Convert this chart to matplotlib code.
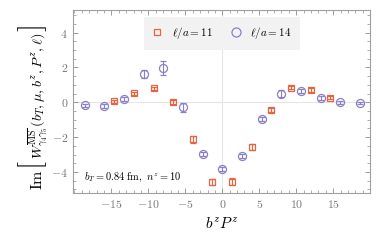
import matplotlib
matplotlib.use("Agg")
import matplotlib.pyplot as plt
from matplotlib.lines import Line2D
from matplotlib.transforms import IdentityTransform
from matplotlib.ticker import MultipleLocator, FixedLocator, FuncFormatter

# data
x11 = [-14.6, -11.95, -9.3, -6.65, -3.99, -1.33, 1.33, 3.99, 6.65, 9.3, 11.95, 14.6]
y11 = [0.05, 0.52, 0.80, 0.0, -2.13, -4.56, -4.56, -2.55, -0.44, 0.84, 0.71, 0.26]
e11 = [0.10, 0.10, 0.10, 0.12, 0.20, 0.17, 0.20, 0.18, 0.12, 0.10, 0.10, 0.08]

x14 = [-18.6, -15.96, -13.3, -10.64, -7.98, -5.32, -2.66, 0.0, 2.66, 5.32, 7.98, 10.64, 13.3, 15.96, 18.6]
y14 = [-0.17, -0.2, 0.19, 1.63, 1.99, -0.29, -2.97, -3.81, -3.07, -0.96, 0.48, 0.63, 0.26, 0.0, -0.04]
e14 = [0.08, 0.10, 0.12, 0.25, 0.40, 0.25, 0.10, 0.12, 0.12, 0.12, 0.20, 0.12, 0.10, 0.08, 0.08]

xticks = [-15, -10, -5, 0, 5, 10, 15]
yticks = [-4, -2, 0, 2, 4]

red = "#E8633F"
purple = "#8A80C8"
gray = "#8C8C8C"

plt.rcParams["mathtext.fontset"] = "cm"
plt.rcParams["font.family"] = "serif"

fig = plt.figure(figsize=(3.82, 2.43), dpi=100)
ax = fig.add_axes([0.191, 0.206, 0.778, 0.753])

ax.axhline(0, color="#E6E6E6", lw=0.8, zorder=0)
ax.axvline(0, color="#E6E6E6", lw=0.8, zorder=0)

ax.errorbar(x11, y11, yerr=e11, fmt="s", ms=4.8, mfc="none", mec=red, mew=0.9,
            ecolor=red, elinewidth=0.8, capsize=2.2, capthick=0.8)
ax.errorbar(x14, y14, yerr=e14, fmt="o", ms=5.8, mfc="none", mec=purple, mew=0.9,
            ecolor=purple, elinewidth=0.8, capsize=2.2, capthick=0.8)

ax.set_xlim(-20.2, 20)
ax.set_ylim(-5.2, 5.3)

ax.xaxis.set_major_locator(FixedLocator(xticks))
ax.xaxis.set_minor_locator(MultipleLocator(1))
ax.yaxis.set_major_locator(FixedLocator(yticks))
ax.yaxis.set_minor_locator(MultipleLocator(0.5))
fmt = FuncFormatter(lambda v, p: r"$%d$" % round(v))
ax.xaxis.set_major_formatter(fmt)
ax.yaxis.set_major_formatter(fmt)
ax.tick_params(which="both", direction="in", top=True, right=True, color=gray,
               labelcolor="#777777", labelsize=8.5)
ax.tick_params(which="major", length=3.5, width=0.6)
ax.tick_params(which="minor", length=2, width=0.5)
for s in ax.spines.values():
    s.set_color("#A0A0A0")
    s.set_linewidth(0.8)

ax.set_xlabel(r"$b^zP^z$", fontsize=11)

# y label built from pieces so the brackets can be tall
inner = fig.text(38, 147, r"$W^{\overline{\mathrm{MS}}}_{\gamma_4\gamma_5}(b_T,\mu,b^z,P^z,\ell)$",
                 transform=IdentityTransform(), rotation=90, ha="center", va="center",
                 fontsize=10.2)
fig.canvas.draw()
bb = inner.get_window_extent(fig.canvas.get_renderer())
fig.text(33, bb.y0 - 1, r"$[$", transform=IdentityTransform(), rotation=90,
         ha="center", va="top", fontsize=21)
fig.text(33, bb.y1 + 1, r"$]$", transform=IdentityTransform(), rotation=90,
         ha="center", va="bottom", fontsize=21)
fig.text(38, bb.y0 - 10, r"$\mathrm{Im}$", transform=IdentityTransform(), rotation=90,
         ha="center", va="top", fontsize=11.5)

ax.text(-18.7, -4.3, r"$b_T=0.84\ \mathrm{fm},\ n^z=10$", fontsize=7.5, va="center")

handles = [
    Line2D([], [], ls="none", marker="s", ms=4.8, mfc="none", mec=red, mew=0.9),
    Line2D([], [], ls="none", marker="o", ms=6.5, mfc="none", mec=purple, mew=0.9),
]
leg = ax.legend(handles, [r"$\ell/a=11$", r"$\ell/a=14$"], loc="upper center",
                bbox_to_anchor=(0.502, 0.962), ncol=2, frameon=True, fontsize=8,
                handlelength=0.8, handletextpad=0.9, columnspacing=1.7,
                borderpad=0.75, borderaxespad=0)
leg.get_frame().set_facecolor("#F2F2F2")
leg.get_frame().set_edgecolor("none")
leg.get_frame().set_alpha(1)
leg.get_frame().set_boxstyle("square", pad=0)

fig.savefig("out.png", dpi=100)
